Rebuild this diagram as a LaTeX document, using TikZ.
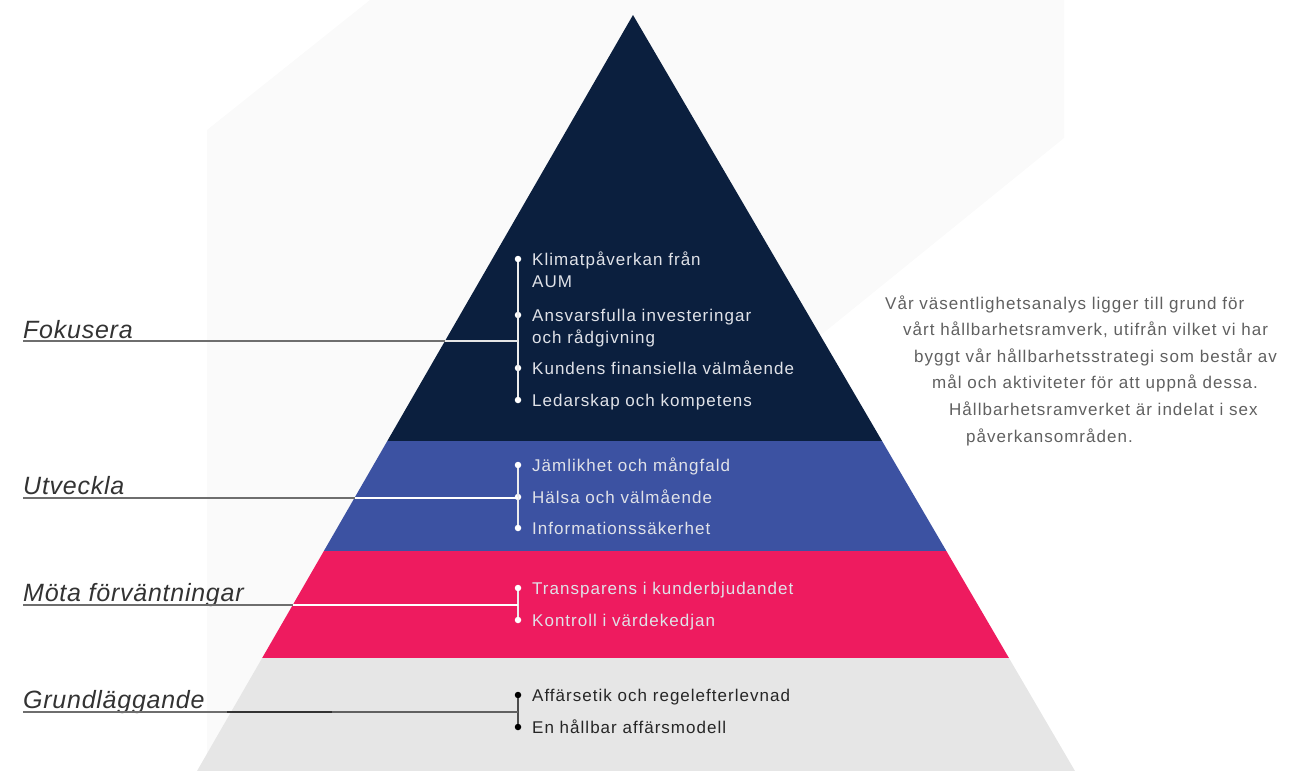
\documentclass[tikz,border=0pt]{standalone}
\usepackage{fontspec}
\setmainfont{Liberation Sans}
\newfontfamily\itemfont[LetterSpace=6]{Liberation Sans}
\newfontfamily\labelfont[LetterSpace=3]{Liberation Sans}
\definecolor{navy}{HTML}{0B1F3E}
\definecolor{midblue}{HTML}{3C52A2}
\definecolor{pink}{HTML}{EE1B5F}
\definecolor{basegray}{HTML}{E6E6E6}
\definecolor{bgshape}{HTML}{FAFAFA}
\definecolor{itemlight}{HTML}{E0E2E8}
\definecolor{itemdark}{HTML}{262626}
\definecolor{labgray}{HTML}{333333}
\definecolor{paragray}{HTML}{606060}
\definecolor{lineout}{HTML}{6E6E6E}
\tikzset{
  itemtext/.style={anchor=base west, inner sep=0pt, text=itemlight, font=\itemfont\fontsize{17}{22}\selectfont},
  itemdarktext/.style={itemtext, text=itemdark},
  labeltext/.style={anchor=base west, inner sep=0pt, text=labgray, font=\labelfont\itshape\fontsize{25}{28}\selectfont},
  paratext/.style={anchor=base west, inner sep=0pt, text=paragray, font=\itemfont\fontsize{17}{22}\selectfont},
  dotw/.style={circle, fill=white, minimum size=6.5pt, inner sep=0pt},
  dotb/.style={circle, fill=black, minimum size=6.5pt, inner sep=0pt},
  vlinew/.style={draw=white!85!gray, line width=1.2pt},
  vlineb/.style={draw=black!70, line width=1.2pt},
  outline/.style={draw=lineout, line width=1.4pt},
  inlinelight/.style={draw=white!80!gray, line width=1.2pt},
  inlinedark/.style={draw=black!80, line width=1.6pt},
  inlinemid/.style={draw=black!62, line width=1.4pt}
}
\begin{document}
\begin{tikzpicture}[x=1pt,y=-1pt]
\useasboundingbox (0,0) rectangle (1294,771);
% faint background shape
\fill[bgshape] (207,130) -- (370,0) -- (1064,0) -- (1064,138) -- (283,771) -- (207,771) -- cycle;
% pyramid layers
\begin{scope}
  \clip (633,15) -- (1075,771) -- (197,771) -- cycle;
  \fill[navy] (0,0) rectangle (1294,441);
  \fill[midblue] (0,441) rectangle (1294,551);
  \fill[pink] (0,551) rectangle (1294,658);
  \fill[basegray] (0,658) rectangle (1294,771);
\end{scope}
% labels
\node[labeltext] (lf) at (23,338) {Fokusera};
\node[labeltext] (lu) at (23,494) {Utveckla};
\node[labeltext] (lm) at (23,601) {Möta förväntningar};
\node[labeltext] (lg) at (23,708) {Grundläggande};
% junction coordinates
\coordinate (fa) at (23,341); \coordinate (fe) at (445,341); \coordinate (fj) at (518,341);
\coordinate (ua) at (23,498); \coordinate (ue) at (354.5,498); \coordinate (uj) at (518,498);
\coordinate (ma) at (23,605); \coordinate (me) at (292.7,605); \coordinate (mj) at (518,605);
\coordinate (ga) at (23,712); \coordinate (gm) at (227,712); \coordinate (gn) at (332,712); \coordinate (gj) at (518,712);
% bullets
\node[dotw] (f1) at (518,259) {};
\node[dotw] (f2) at (518,315) {};
\node[dotw] (f3) at (518,368) {};
\node[dotw] (f4) at (518,400) {};
\node[dotw] (u1) at (518,465) {};
\node[dotw] (u2) at (518,497) {};
\node[dotw] (u3) at (518,528) {};
\node[dotw] (m1) at (518,588) {};
\node[dotw] (m2) at (518,620) {};
\node[dotb] (g1) at (518,695) {};
\node[dotb] (g2) at (518,727) {};
% connectors
\draw[vlinew] (f1) -- (f4);
\draw[vlinew] (u1) -- (u3);
\draw[vlinew] (m1) -- (m2);
\draw[vlineb] (g1) -- (g2);
\draw[outline] (fa) -- (fe);
\draw[inlinelight] (fe) -- (fj);
\draw[outline] (ua) -- (ue);
\draw[inlinelight, draw=white] (ue) -- (uj);
\draw[outline] (ma) -- (me);
\draw[inlinelight, draw=white] (me) -- (mj);
\draw[outline] (ga) -- (gm);
\draw[inlinedark] (gm) -- (gn);
\draw[inlinemid] (gn) -- (gj);
% items
\node[itemtext] (t1) at (532,265) {Klimatpåverkan från};
\node[itemtext] (t1b) at (532,287) {AUM};
\node[itemtext] (t2) at (532,321) {Ansvarsfulla investeringar};
\node[itemtext] (t2b) at (532,343) {och rådgivning};
\node[itemtext] (t3) at (532,374) {Kundens finansiella välmående};
\node[itemtext] (t4) at (532,406) {Ledarskap och kompetens};
\node[itemtext] (t5) at (532,471) {Jämlikhet och mångfald};
\node[itemtext] (t6) at (532,503) {Hälsa och välmående};
\node[itemtext] (t7) at (532,534) {Informationssäkerhet};
\node[itemtext] (t8) at (532,594) {Transparens i kunderbjudandet};
\node[itemtext] (t9) at (532,626) {Kontroll i värdekedjan};
\node[itemdarktext] (t10) at (532,701) {Affärsetik och regelefterlevnad};
\node[itemdarktext] (t11) at (532,733) {En hållbar affärsmodell};
% paragraph
\node[paratext] (p1) at (885,309) {Vår väsentlighetsanalys ligger till grund för};
\node[paratext] (p2) at (903,335.6) {vårt hållbarhetsramverk, utifrån vilket vi har};
\node[paratext] (p3) at (914,362.2) {byggt vår hållbarhetsstrategi som består av};
\node[paratext] (p4) at (932,388.8) {mål och aktiviteter för att uppnå dessa.};
\node[paratext] (p5) at (949,415.4) {Hållbarhetsramverket är indelat i sex};
\node[paratext] (p6) at (966,442) {påverkansområden.};
\end{tikzpicture}
\end{document}
